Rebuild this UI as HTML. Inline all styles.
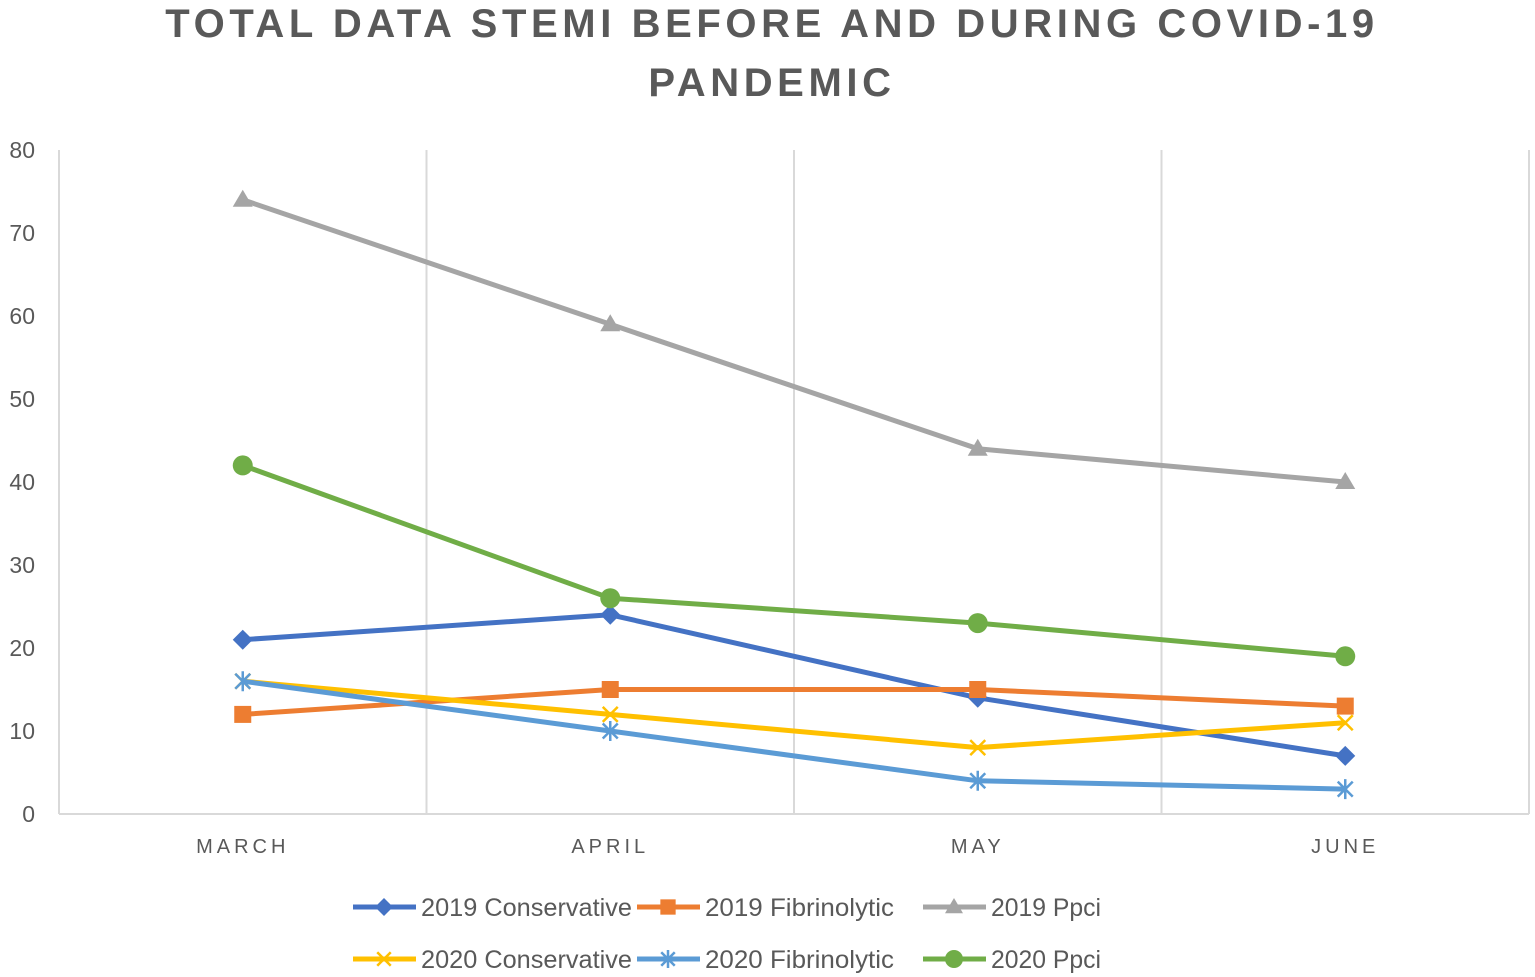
<!DOCTYPE html>
<html><head><meta charset="utf-8"><style>
html,body{margin:0;padding:0;background:#fff;}
svg{display:block;font-family:"Liberation Sans",sans-serif;}
</style></head><body>
<svg width="1535" height="977" viewBox="0 0 1535 977">
<text x="772" y="37" text-anchor="middle" font-size="40" font-weight="bold" fill="#595959" letter-spacing="4.6">TOTAL DATA STEMI BEFORE AND DURING COVID-19</text>
<text x="772" y="96" text-anchor="middle" font-size="40" font-weight="bold" fill="#595959" letter-spacing="4.6">PANDEMIC</text>
<g id="grid"></g><g id="axes"></g><g id="series"></g><g id="legend"></g>
</svg>
<script>
const categories=["MARCH","APRIL","MAY","JUNE"];
const yTicks=[0,10,20,30,40,50,60,70,80];
const seriesNames=["2019 Conservative","2019 Fibrinolytic","2019 Ppci","2020 Conservative","2020 Fibrinolytic","2020 Ppci"];
const cons2019=[21,24,14,7];
const fib2019=[12,15,15,13];
const ppci2019=[74,59,44,40];
const cons2020=[16,12,8,11];
const fib2020=[16,10,4,3];
const ppci2020=[42,26,23,19];
const seriesValues=[cons2019,fib2019,ppci2019,cons2020,fib2020,ppci2020];
const colors=["#4472C4","#ED7D31","#A5A5A5","#FFC000","#5B9BD5","#70AD47"];
const markers=["diamond","square","triangle","x","star","circle"];
const legendWidths=[211,189,110,211,189,110];
const NS="http://www.w3.org/2000/svg";
const L=59,R=1529,T=150,B=814,yMax=80;
const band=(R-L)/categories.length;
const xs=i=>L+band*(i+0.5);
const ys=v=>B-(v/yMax)*(B-T);
function mk(tag,attrs,parent){const e=document.createElementNS(NS,tag);for(const k in attrs)e.setAttribute(k,attrs[k]);parent.appendChild(e);return e;}
const grid=document.getElementById('grid'),axes=document.getElementById('axes'),ser=document.getElementById('series'),leg=document.getElementById('legend');
for(let i=0;i<=categories.length;i++){
 const x=L+band*i;
 const g=mk('line',{x1:x,x2:x,y1:T,y2:B,stroke:'#D9D9D9','stroke-width':2},grid);
 
 
}
const xa=mk('line',{x1:L,x2:R,y1:B,y2:B,stroke:'#D9D9D9','stroke-width':2},axes);


yTicks.forEach(t=>{
 const e=mk('text',{x:35,y:ys(t)+8,'text-anchor':'end','font-size':23,fill:'#595959'},axes);
 e.textContent=t;
 
 
});
categories.forEach((c,i)=>{
 const e=mk('text',{x:xs(i),y:853,'text-anchor':'middle','font-size':20,fill:'#595959','letter-spacing':4},axes);
 e.textContent=c;
 
 
});
function marker(type,x,y,col,parent,s){
 let e;
 if(type==='diamond')e=mk('polygon',{points:`${x},${y-s} ${x+s},${y} ${x},${y+s} ${x-s},${y}`,fill:col},parent);
 else if(type==='square')e=mk('rect',{x:x-s*0.85,y:y-s*0.85,width:s*1.7,height:s*1.7,fill:col},parent);
 else if(type==='triangle')e=mk('polygon',{points:`${x},${y-s} ${x+s},${y+s*0.7} ${x-s},${y+s*0.7}`,fill:col},parent);
 else if(type==='circle')e=mk('circle',{cx:x,cy:y,r:s,fill:col},parent);
 else{
  const d=s*0.75;let p=`M${x-d},${y-d}L${x+d},${y+d}M${x-d},${y+d}L${x+d},${y-d}`;
  if(type==='star')p+=`M${x},${y-s}L${x},${y+s}`;
  e=mk('path',{d:p,stroke:col,'stroke-width':2.5,fill:'none'},parent);
 }
 return e;
}
seriesValues.forEach((vals,si)=>{
 const g=mk('g',{},ser);
 
 
 const l=mk('polyline',{points:vals.map((v,i)=>xs(i)+','+ys(v)).join(' '),fill:'none',stroke:colors[si],'stroke-width':5,'stroke-linejoin':'round'},g);
 
 
 vals.forEach((v,i)=>{
  const m=marker(markers[si],xs(i),ys(v),colors[si],g,10);
  
  
 });
});
const legX=[353,637,923],legY=[907,959];
seriesNames.forEach((n,si)=>{
 const x=legX[si%3],y=legY[Math.floor(si/3)];
 const g=mk('g',{},leg);
 
 
 mk('line',{x1:x,x2:x+63,y1:y,y2:y,stroke:colors[si],'stroke-width':5},g);
 marker(markers[si],x+31,y,colors[si],g,9);
 const t=mk('text',{x:x+68,y:y+9,'font-size':25,fill:'#595959',textLength:legendWidths[si],lengthAdjust:'spacingAndGlyphs'},g);
 t.textContent=n;
});
</script>
</body></html>
